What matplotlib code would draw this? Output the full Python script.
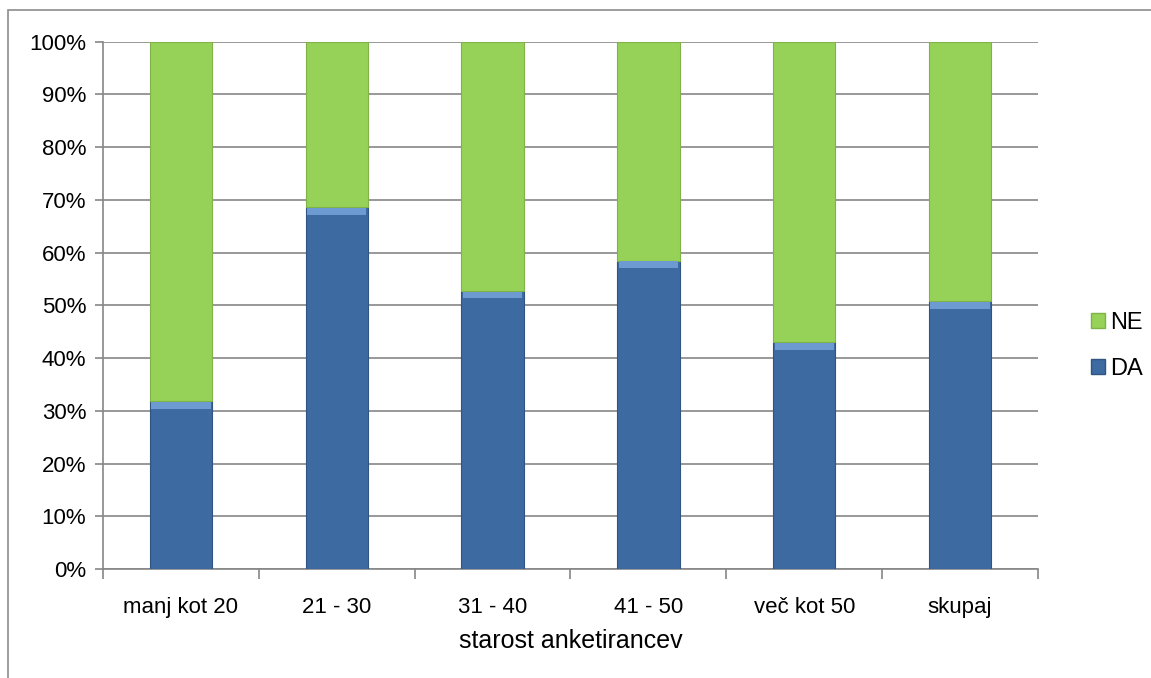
import numpy as np
import matplotlib.pyplot as plt
from matplotlib.patches import Rectangle, Patch

plt.rcParams['font.family'] = ['Liberation Sans', 'DejaVu Sans']

# data
categories = ['manj kot 20', '21 - 30', '31 - 40', '41 - 50', 'več kot 50', 'skupaj']
da = [31.8, 68.6, 52.7, 58.5, 43.0, 50.8]
ne = [100 - v for v in da]

blue = '#3D6AA1'
blue_light = '#6E9AD2'
green = '#96D257'
grid_col = '#868686'

fig = plt.figure(figsize=(11.51, 6.78), dpi=100)
ax = fig.add_axes([103/1151, 1-569/678, (1038-103)/1151, (569-41.7)/678])

# outer chart frame
fig.patches.append(Rectangle((8/1151, -0.1), 1.2, 1-10/678+0.1, transform=fig.transFigure,
                             fill=False, edgecolor='#8c8c8c', linewidth=1.2))

x = np.arange(len(categories))
ax.bar(x, da, width=0.4, color=blue, edgecolor='#2f5580', linewidth=0.8, zorder=3, label='DA')
# lighter bevel on top of the blue segment
ax.bar(x, 1.3, width=0.38, bottom=[v - 1.4 for v in da], color=blue_light, linewidth=0, zorder=4)
ax.bar(x, ne, width=0.4, bottom=da, color=green, edgecolor='#7fb347', linewidth=0.8, zorder=3, label='NE')

ax.set_xlim(-0.5, len(categories) - 0.5)
ax.set_ylim(0, 100)
ax.set_yticks(np.arange(0, 101, 10))
ax.set_yticklabels([f'{v}%' for v in range(0, 101, 10)], fontsize=16)
ax.set_xticks(x)
ax.set_xticklabels(categories, fontsize=16)
ax.set_xticks(np.arange(-0.5, len(categories)), minor=True)
ax.tick_params(axis='x', which='major', length=0, pad=20)
ax.tick_params(axis='x', which='minor', length=7, color=grid_col, width=1.2)
ax.tick_params(axis='y', length=6, color=grid_col, width=1.2, pad=6)

ax.yaxis.grid(True, color=grid_col, linewidth=1.2, zorder=0)
ax.set_axisbelow(True)
for s in ['top', 'right']:
    ax.spines[s].set_visible(False)
for s in ['left', 'bottom']:
    ax.spines[s].set_color(grid_col)
    ax.spines[s].set_linewidth(1.2)

ax.set_xlabel('starost anketirancev', fontsize=18, labelpad=8)

handles = [Patch(facecolor=green, edgecolor='#7fb347', label='NE'),
           Patch(facecolor=blue, edgecolor='#2f5580', label='DA')]
fig.legend(handles=handles, loc='center left', bbox_to_anchor=(1070/1151, 1-346/678),
           frameon=False, fontsize=17, handlelength=0.6, handleheight=0.6,
           handletextpad=0.2, labelspacing=1.0)

fig.savefig('out.png', dpi=100)
